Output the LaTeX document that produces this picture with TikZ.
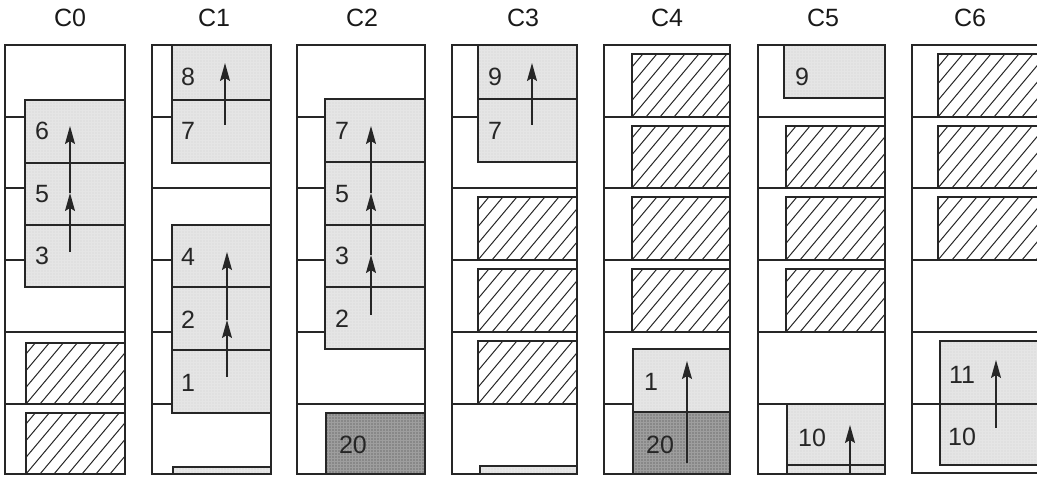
\documentclass[tikz,border=0pt]{standalone}
\usepackage{fontspec}
\setmainfont{Liberation Sans}
\usetikzlibrary{patterns.meta,arrows.meta}
\tikzset{
  frm/.style={draw=black!85, line width=1.3pt},
  sl/.style={draw=black!85, line width=1.2pt},
  lt/.style={draw=black!85, line width=1.2pt, preaction={fill=black!10},
    pattern={Dots[distance=3pt,radius=0.45pt]}, pattern color=black!32},
  dk/.style={draw=black!85, line width=1.2pt, preaction={fill=black!38},
    pattern={Dots[distance=3pt,radius=0.6pt]}, pattern color=black!75},
  bx/.style={draw=black!85, line width=1.2pt},
  hl/.style={draw=black!85, line width=1pt},
  lbl/.style={font=\fontsize{25}{30}\selectfont, text=black!85, inner sep=0pt},
  ttl/.style={font=\fontsize{25}{30}\selectfont, text=black!90, inner sep=0pt},
  arr/.style={-{Stealth[length=18pt,width=10pt,inset=3pt]}, line width=1.4pt, draw=black!85}
}
\newcommand\myslots[2]{\foreach \yy in {117,188,260,332,404} \draw[sl] (#1,\yy) -- (#2,\yy);}
\newcommand\hatchbox[4]{%
  \begin{scope}
    \clip (#1,#2) rectangle (#3,#4);
    \fill[white] (#1,#2) rectangle (#3,#4);
    \foreach \k in {0,...,14} {%
      \pgfmathsetmacro\xs{#1-70+\k*14}
      \draw[hl] (\xs,#4) -- ++(80,-95.3);
    }
  \end{scope}
  \draw[bx] (#1,#2) rectangle (#3,#4);
}
\begin{document}
\begin{tikzpicture}[x=1pt,y=-1pt]
\useasboundingbox (0,0) rectangle (1037,481);
\clip (0,0) rectangle (1037,481);
% ---------- C0
\node[ttl] (t0) at (70,18) {C0};
\myslots{5}{125}
\path[lt] (25,100) rectangle (125,163);
\path[lt] (25,163) rectangle (125,225);
\path[lt] (25,225) rectangle (125,287);
\hatchbox{26}{343}{125}{404}
\hatchbox{26}{413}{125}{474}
\draw[frm] (5,45) rectangle (125,474);
\node[lbl] (c0l6) at (42,131) {6};
\node[lbl] (c0l5) at (42,194) {5};
\node[lbl] (c0l3) at (42,256) {3};
\coordinate (c0a) at (70,252);
\coordinate (c0b) at (70,193);
\coordinate (c0c) at (70,126);
\draw[arr] (c0a) -- (c0b);
\draw[arr] (c0b) -- (c0c);
% ---------- C1
\node[ttl] (t1) at (214,18) {C1};
\myslots{152}{271}
\path[lt] (172,45) rectangle (271,100);
\path[lt] (172,100) rectangle (271,163);
\path[lt] (172,225) rectangle (271,287);
\path[lt] (172,287) rectangle (271,350);
\path[lt] (172,350) rectangle (271,413);
\path[lt] (173,467) rectangle (271,474);
\draw[frm] (152,45) rectangle (271,474);
\node[lbl] (c1l8) at (188,77) {8};
\node[lbl] (c1l7) at (188,131) {7};
\node[lbl] (c1l4) at (188,257) {4};
\node[lbl] (c1l2) at (188,320) {2};
\node[lbl] (c1l1) at (188,383) {1};
\coordinate (c1a) at (225,125);
\coordinate (c1b) at (225,63);
\draw[arr] (c1a) -- (c1b);
\coordinate (c1c) at (227,377);
\coordinate (c1d) at (227,320);
\coordinate (c1e) at (227,252);
\draw[arr] (c1c) -- (c1d);
\draw[arr] (c1d) -- (c1e);
% ---------- C2
\node[ttl] (t2) at (362,18) {C2};
\myslots{297}{425}
\path[lt] (325,99) rectangle (425,162);
\path[lt] (325,162) rectangle (425,225);
\path[lt] (325,225) rectangle (425,287);
\path[lt] (325,287) rectangle (425,349);
\path[dk] (326,413) rectangle (425,474);
\draw[frm] (297,45) rectangle (425,474);
\node[lbl] (c2l7) at (342,131) {7};
\node[lbl] (c2l5) at (342,194) {5};
\node[lbl] (c2l3) at (342,256) {3};
\node[lbl] (c2l2) at (342,319) {2};
\node[lbl] (c2l20) at (353,445) {20};
\coordinate (c2a) at (371,315);
\coordinate (c2b) at (371,255);
\coordinate (c2c) at (371,193);
\coordinate (c2d) at (371,126);
\draw[arr] (c2a) -- (c2b);
\draw[arr] (c2b) -- (c2c);
\draw[arr] (c2c) -- (c2d);
% ---------- C3
\node[ttl] (t3) at (523,18) {C3};
\myslots{452}{577}
\path[lt] (478,45) rectangle (577,99);
\path[lt] (478,99) rectangle (577,162);
\hatchbox{478}{197}{577}{260}
\hatchbox{478}{269}{577}{332}
\hatchbox{478}{341}{577}{404}
\path[lt] (480,466) rectangle (577,474);
\draw[frm] (452,45) rectangle (577,474);
\node[lbl] (c3l9) at (495,77) {9};
\node[lbl] (c3l7) at (495,131) {7};
\coordinate (c3a) at (532,125);
\coordinate (c3b) at (532,63);
\draw[arr] (c3a) -- (c3b);
% ---------- C4
\node[ttl] (t4) at (667,18) {C4};
\myslots{604}{730}
\hatchbox{632}{54}{730}{117}
\hatchbox{632}{126}{730}{188}
\hatchbox{632}{197}{730}{260}
\hatchbox{632}{269}{730}{332}
\path[lt] (633,349) rectangle (730,412);
\path[dk] (633,412) rectangle (730,474);
\draw[frm] (604,45) rectangle (730,474);
\node[lbl] (c4l1) at (651,382) {1};
\node[lbl] (c4l20) at (660,445) {20};
\coordinate (c4a) at (687,463);
\coordinate (c4b) at (687,361);
\draw[arr] (c4a) -- (c4b);
% ---------- C5
\node[ttl] (t5) at (823,18) {C5};
\myslots{758}{885}
\path[lt] (784,45) rectangle (885,98);
\hatchbox{786}{126}{885}{188}
\hatchbox{786}{197}{885}{260}
\hatchbox{786}{269}{885}{332}
\path[lt] (787,404) rectangle (885,465);
\path[lt] (787,465) rectangle (885,474);
\draw[frm] (758,45) rectangle (885,474);
\node[lbl] (c5l9) at (802,77) {9};
\node[lbl] (c5l10) at (812,438) {10};
\coordinate (c5a) at (850,474);
\coordinate (c5b) at (850,425);
\draw[arr] (c5a) -- (c5b);
% ---------- C6
\node[ttl] (t6) at (970,18) {C6};
\myslots{912}{1045}
\hatchbox{938}{54}{1045}{117}
\hatchbox{938}{126}{1045}{188}
\hatchbox{938}{197}{1045}{260}
\path[lt] (940,341) rectangle (1045,404);
\path[lt] (940,404) rectangle (1045,465);
\draw[frm] (912,45) rectangle (1045,473);
\draw[sl] (912,404) -- (940,404);
\node[lbl] (c6l11) at (962,375) {11};
\node[lbl] (c6l10) at (962,437) {10};
\coordinate (c6a) at (996,428);
\coordinate (c6b) at (996,360);
\draw[arr] (c6a) -- (c6b);
\end{tikzpicture}
\end{document}
